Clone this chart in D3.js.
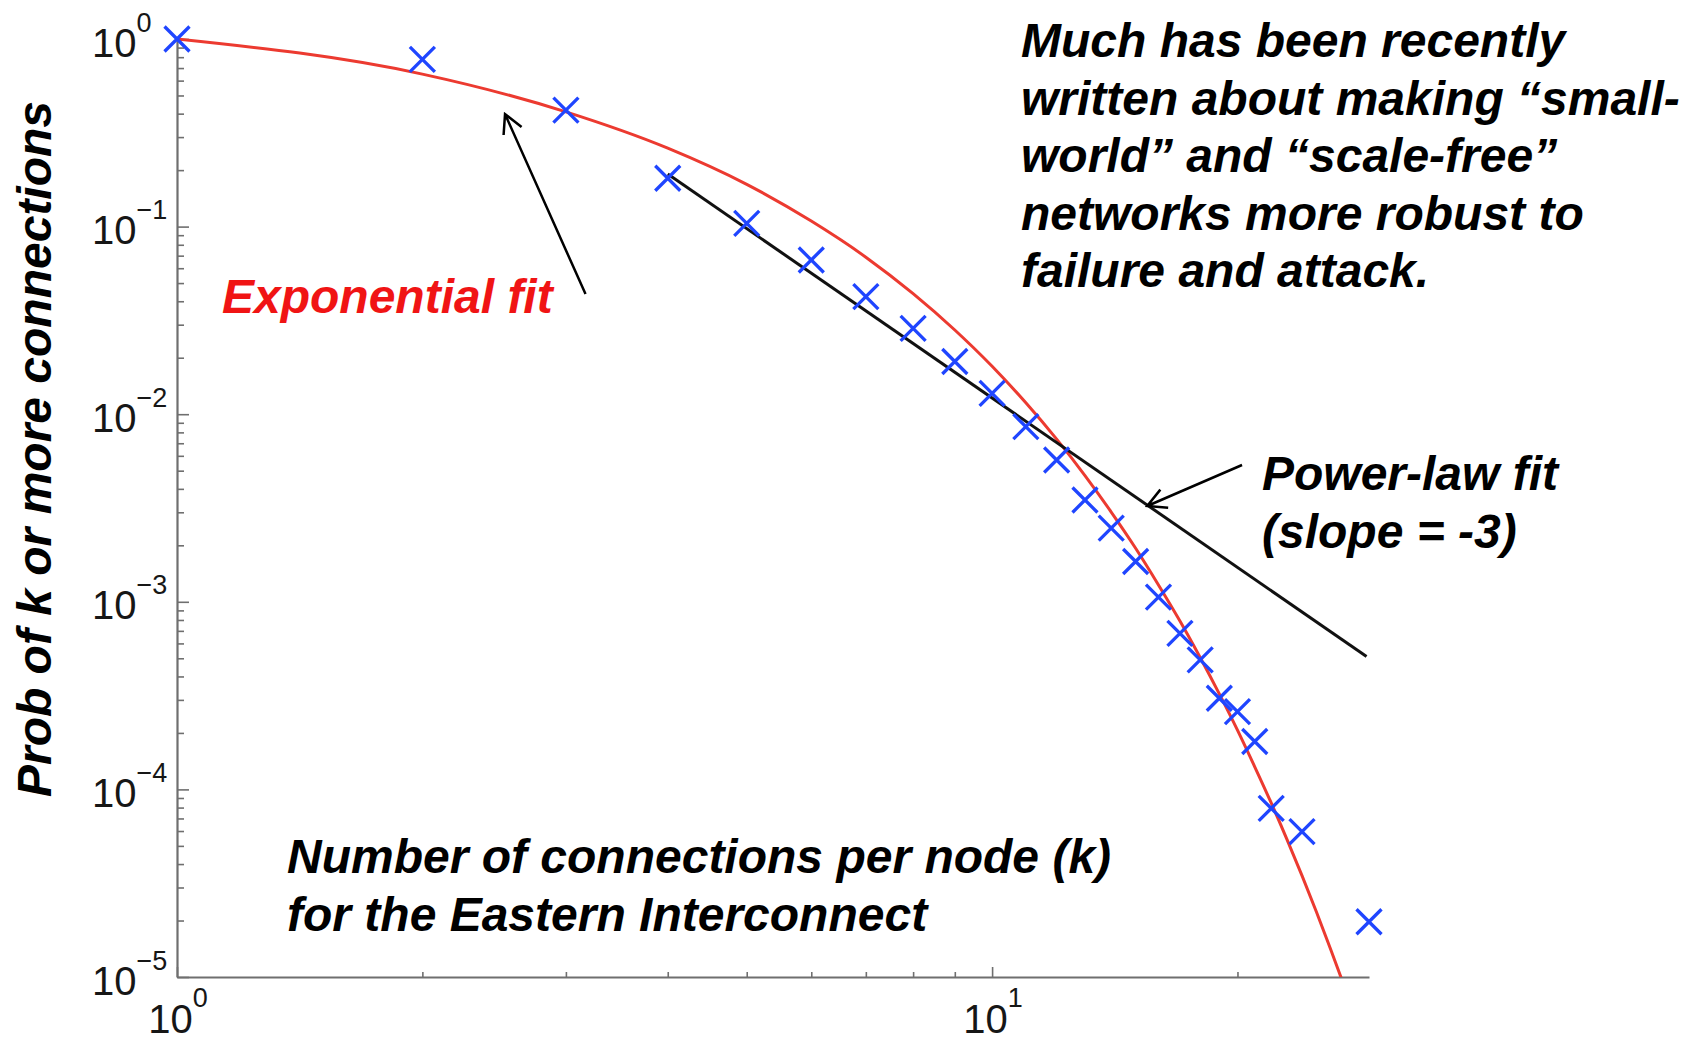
<!DOCTYPE html>
<html>
<head>
<meta charset="utf-8">
<script src="https://cdn.jsdelivr.net/npm/d3@7"></script>
<style>
  body { margin: 0; background: #fff; }
  svg { display: block; }
  .txt { font-family: "Liberation Sans", Arial, Helvetica, sans-serif; font-weight: bold; font-style: italic; font-size: 48px; }
  .tick-label { font-family: "Liberation Sans", Arial, Helvetica, sans-serif; font-size: 40px; fill: #161616; }
</style>
</head>
<body>
<svg id="chart" width="1697" height="1043"></svg>
<script>
// Degree distribution of the Eastern Interconnect: P(K >= k)
const degree      = [1, 2, 3, 4, 5, 6, 7, 8, 9, 10, 11, 12, 13, 14, 15, 16, 17, 18, 19, 20, 21, 22, 24, 29];
const probability = [1, 0.779, 0.418, 0.181, 0.104, 0.0664, 0.0423, 0.0287, 0.0191, 0.0129,
                     0.00858, 0.0057, 0.00349, 0.00247, 0.00164, 0.00106, 0.000679, 0.00049,
                     0.000306, 0.00026, 0.00018, 0.0000792, 0.0000595, 0.0000197];

// Exponential fit evaluated at integer degrees
const expFitDegree = [1, 2, 3, 4, 5, 6, 7, 8, 9, 10, 11, 12, 13, 14, 15, 16, 17, 18, 19, 20, 21, 22, 23, 24, 25, 26, 27];
const expFitProb   = [1, 0.65, 0.409, 0.262, 0.168, 0.107, 0.0687, 0.0439, 0.0281, 0.0180,
                      0.0115, 0.00736, 0.00471, 0.00301, 0.00193, 0.00123, 0.00079, 0.000505,
                      0.000323, 0.000207, 0.000132, 0.0000847, 0.0000542, 0.0000347, 0.0000222,
                      0.0000142, 0.0000091];

// Power-law fit, slope -3
const powerFitDegree = [4, 28.8];
const powerFitProb   = [0.1906, 0.000511];

// Axis ticks
const yMajorTicks    = [1e-5, 1e-4, 1e-3, 1e-2, 1e-1, 1];
const yTickExponents = ["\u22125", "\u22124", "\u22123", "\u22122", "\u22121", "0"];
const xMajorTicks    = [1, 10];
const xTickExponents = ["0", "1"];
const xMinorTicks    = [2, 3, 4, 5, 6, 7, 8, 9, 20];

// Annotation text
const yTitle      = "Prob of k or more connections";
const noteLines   = ["Much has been recently", "written about making \u201csmall-", "world\u201d and \u201cscale-free\u201d", "networks more robust to", "failure and attack."];
const expLabel    = ["Exponential fit"];
const powLabel    = ["Power-law fit", "(slope = -3)"];
const xTitleLines = ["Number of connections per node (k)", "for the Eastern Interconnect"];

// Arrow annotations (tail -> head) in data coordinates
const arrowTailK = [3.171, 20.26];
const arrowTailP = [0.0437, 0.00536];
const arrowHeadK = [2.526, 15.50];
const arrowHeadP = [0.398, 0.00324];

const svg = d3.select("#chart");
const W = 1697, H = 1043;
svg.append("rect").attr("width", W).attr("height", H).attr("fill", "#fff");

const x = d3.scaleLog().domain([1, 29]).range([177, 1369]);
const y = d3.scaleLog().domain([1e-5, 1]).range([977, 39]);

const yMinorTicks = [];
for (let e = -5; e < 0; e++) for (let m = 2; m <= 9; m++) yMinorTicks.push(m * Math.pow(10, e));

const axisColor = "#6f6f6f";

// Y axis
const gy = svg.append("g").attr("transform", `translate(${x(1)},0)`);
gy.call(d3.axisLeft(y).tickValues(yMinorTicks).tickSize(-7).tickSizeOuter(0).tickFormat(""));
gy.call(g => g.select(".domain").remove());
const gy2 = svg.append("g").attr("transform", `translate(${x(1)},0)`);
gy2.call(d3.axisLeft(y).tickValues(yMajorTicks).tickSize(-12).tickSizeOuter(0).tickFormat(""));
[gy, gy2].forEach(g => {
  g.selectAll("line").attr("stroke", axisColor).attr("stroke-width", 1.6);
  g.selectAll(".domain").attr("stroke", axisColor).attr("stroke-width", 2.2);
  g.selectAll("text").remove();
});

// X axis
const gx = svg.append("g").attr("transform", `translate(0,${y(1e-5)})`);
gx.call(d3.axisBottom(x).tickValues(xMinorTicks).tickSize(-5).tickSizeOuter(0).tickFormat(""));
gx.call(g => g.select(".domain").remove());
const gx2 = svg.append("g").attr("transform", `translate(0,${y(1e-5)})`);
gx2.call(d3.axisBottom(x).tickValues(xMajorTicks).tickSize(-10).tickSizeOuter(0).tickFormat(""));
[gx, gx2].forEach(g => {
  g.selectAll("line").attr("stroke", axisColor).attr("stroke-width", 1.6);
  g.selectAll(".domain").attr("stroke", axisColor).attr("stroke-width", 2.2);
  g.selectAll("text").remove();
});

// Tick labels: 10 with superscript exponent
yMajorTicks.forEach((v, i) => {
  const t = svg.append("text").attr("class", "tick-label")
    .attr("x", 92).attr("y", y(v) + 17.5).attr("text-anchor", "start");
  t.append("tspan").text("10");
  t.append("tspan").attr("dy", -25).attr("font-size", 27).text(yTickExponents[i]);
});
xMajorTicks.forEach((v, i) => {
  const t = svg.append("text").attr("class", "tick-label")
    .attr("x", x(v) + 1).attr("y", 1033).attr("text-anchor", "middle");
  t.append("tspan").text("10");
  t.append("tspan").attr("dy", -26).attr("font-size", 27).text(xTickExponents[i]);
});

// Clip region for fit curves
svg.append("clipPath").attr("id", "plotClip")
  .append("rect").attr("x", x(1)).attr("y", 0).attr("width", 1500 - x(1)).attr("height", y(1e-5));

// Exponential fit (red)
svg.append("path")
  .datum(expFitDegree.map((k, i) => [k, expFitProb[i]]))
  .attr("clip-path", "url(#plotClip)")
  .attr("d", d3.line().x(d => x(d[0])).y(d => y(d[1])).curve(d3.curveMonotoneX))
  .attr("fill", "none").attr("stroke", "#ec3a30").attr("stroke-width", 3).attr("stroke-linejoin", "round");

// Power-law fit (black)
svg.append("path")
  .datum(powerFitDegree.map((k, i) => [k, powerFitProb[i]]))
  .attr("d", d3.line().x(d => x(d[0])).y(d => y(d[1])))
  .attr("fill", "none").attr("stroke", "#111").attr("stroke-width", 3);

// Data markers
const ms = 12.5;
svg.append("g").selectAll("path")
  .data(degree.map((k, i) => [k, probability[i]]))
  .join("path")
  .attr("d", d => {
    const cx = x(d[0]), cy = y(d[1]);
    return `M${cx - ms},${cy - ms}L${cx + ms},${cy + ms}M${cx - ms},${cy + ms}L${cx + ms},${cy - ms}`;
  })
  .attr("fill", "none").attr("stroke", "#1f45ff").attr("stroke-width", 3.3);

// Arrows
arrowTailK.forEach((_, i) => {
  const x0 = x(arrowTailK[i]), y0 = y(arrowTailP[i]);
  const x1 = x(arrowHeadK[i]), y1 = y(arrowHeadP[i]);
  const ang = Math.atan2(y0 - y1, x0 - x1);
  const L = 21, spread = 28 * Math.PI / 180;
  const a1 = [x1 + L * Math.cos(ang + spread), y1 + L * Math.sin(ang + spread)];
  const a2 = [x1 + L * Math.cos(ang - spread), y1 + L * Math.sin(ang - spread)];
  svg.append("path")
    .attr("d", `M${x0},${y0}L${x1},${y1}M${a1[0]},${a1[1]}L${x1},${y1}L${a2[0]},${a2[1]}`)
    .attr("fill", "none").attr("stroke", "#000").attr("stroke-width", 2.5);
});

// Text blocks
function block(lines, x0, y0, color) {
  const t = svg.append("text").attr("class", "txt").attr("fill", color);
  lines.forEach((s, i) => t.append("tspan").attr("x", x0).attr("y", y0 + i * 57.5).text(s));
}
block(noteLines, 1021, 57, "#000");
block(expLabel, 222, 313, "#f01414");
block(powLabel, 1262, 490, "#000");
block(xTitleLines, 287, 873, "#000");

svg.append("text").attr("class", "txt")
  .attr("transform", "translate(51,449) rotate(-90)")
  .attr("text-anchor", "middle")
  .text(yTitle);
</script>
</body>
</html>
